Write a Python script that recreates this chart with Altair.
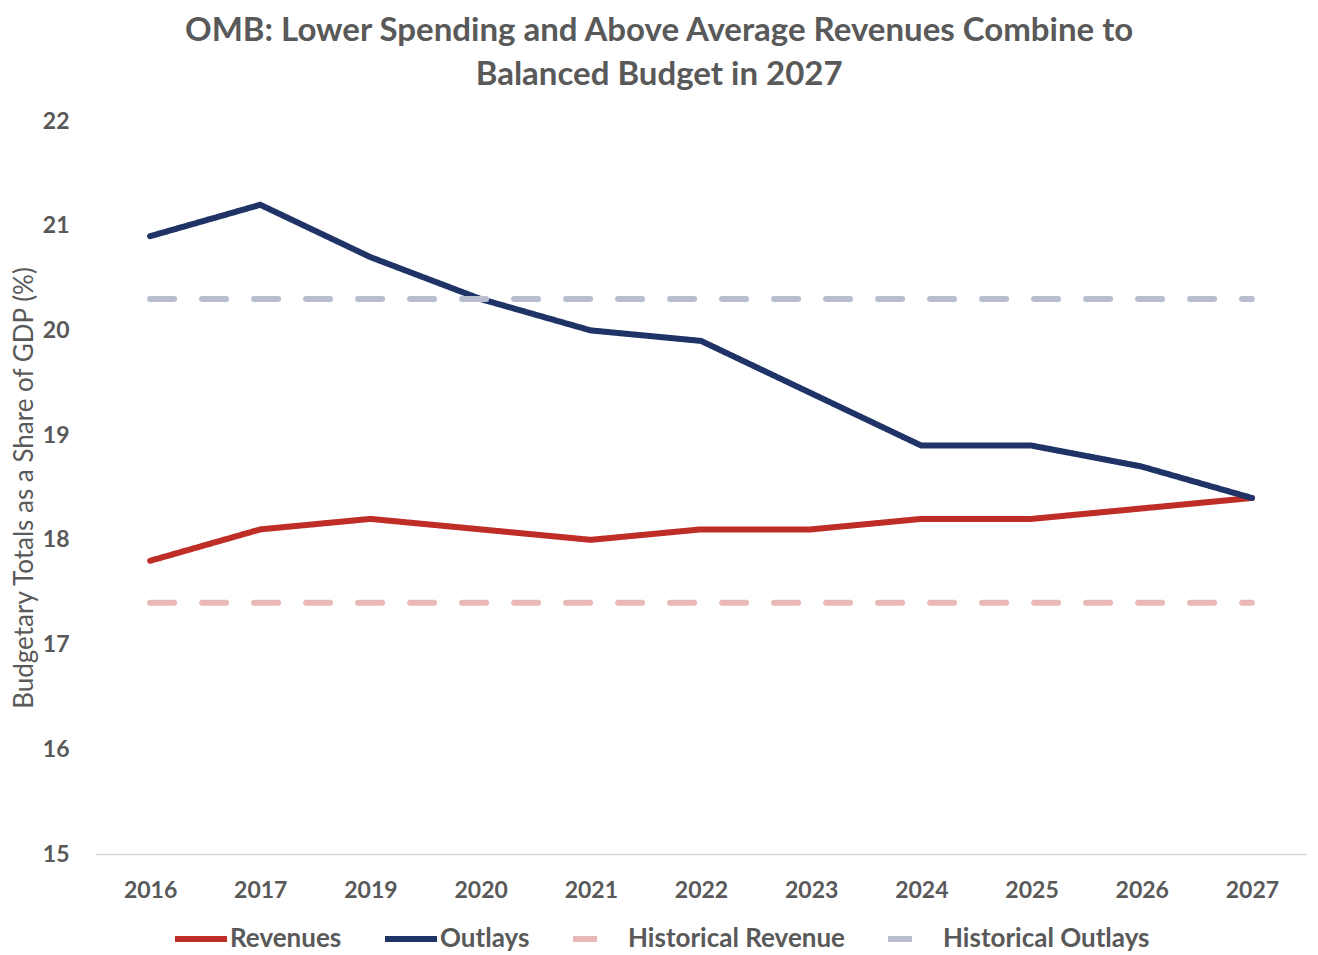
import altair as alt
import pandas as pd

years = ["2016", "2017", "2019", "2020", "2021", "2022", "2023", "2024", "2025", "2026", "2027"]
revenues = [17.8, 18.1, 18.2, 18.1, 18.0, 18.1, 18.1, 18.2, 18.2, 18.3, 18.4]
outlays = [20.9, 21.2, 20.7, 20.3, 20.0, 19.9, 19.4, 18.9, 18.9, 18.7, 18.4]
hist_revenue = [17.4, 17.4, 17.4, 17.4, 17.4, 17.4, 17.4, 17.4, 17.4, 17.4, 17.4]
hist_outlays = [20.3, 20.3, 20.3, 20.3, 20.3, 20.3, 20.3, 20.3, 20.3, 20.3, 20.3]
series_names = ["Revenues", "Outlays", "Historical Revenue", "Historical Outlays"]
series_colors = ["#BE2D26", "#1F3366", "#E8B9B7", "#B8BDD0"]
y_ticks = [15, 16, 17, 18, 19, 20, 21, 22]

rows = []
for name, vals in zip(series_names, [revenues, outlays, hist_revenue, hist_outlays]):
    for y, v in zip(years, vals):
        rows.append({"Year": y, "Value": v, "Series": name})
df = pd.DataFrame(rows)

FONT = "Lato"
GREY = "#595959"

chart = alt.Chart(df).mark_line(strokeWidth=6, strokeCap="round").encode(
    x=alt.X("Year:O", sort=years, title=None,
            axis=alt.Axis(labelAngle=0, ticks=False, labelPadding=25, labelFontSize=23,
                          labelFont=FONT, labelFontWeight="bold", labelColor=GREY,
                          domainColor="#D9D9D9", domainWidth=1.5, grid=False)),
    y=alt.Y("Value:Q", scale=alt.Scale(domain=[15, 22], nice=False, zero=False),
            title="Budgetary Totals as a Share of GDP (%)",
            axis=alt.Axis(values=y_ticks, ticks=False, domain=False, grid=False,
                          labelPadding=26, labelFontSize=23, labelFont=FONT,
                          labelFontWeight="bold", labelColor=GREY,
                          titleFont=FONT, titleFontSize=26, titleFontWeight="normal",
                          titleColor=GREY, titlePadding=5)),
    color=alt.Color("Series:N", scale=alt.Scale(domain=series_names, range=series_colors),
                    legend=alt.Legend(title=None, orient="none", direction="horizontal",
                                      legendX=77, legendY=789,
                                      symbolType="stroke", symbolSize=2704,
                                      symbolStrokeWidth=6, labelFont=FONT,
                                      labelFontSize=26, labelFontWeight="bold",
                                      labelColor=GREY, labelOffset=0, labelLimit=0,
                                      columnPadding=31)),
    strokeDash=alt.StrokeDash("Series:N",
                              scale=alt.Scale(domain=series_names,
                                              range=[[1, 0], [1, 0], [24, 28], [24, 28]]),
                              legend=None),
).properties(
    width=1212,
    height=733,
    padding={"left": 3, "top": 7, "right": 0, "bottom": 0},
    title=alt.TitleParams(
        text=["OMB: Lower Spending and Above Average Revenues Combine to",
              "Balanced Budget in 2027"],
        font=FONT, fontSize=33, fontWeight="bold", color=GREY,
        lineHeight=44, anchor="middle", offset=18, frame="bounds"),
).configure_view(stroke=None)

chart.save("out.html", embed_options={"renderer": "svg", "actions": False})
